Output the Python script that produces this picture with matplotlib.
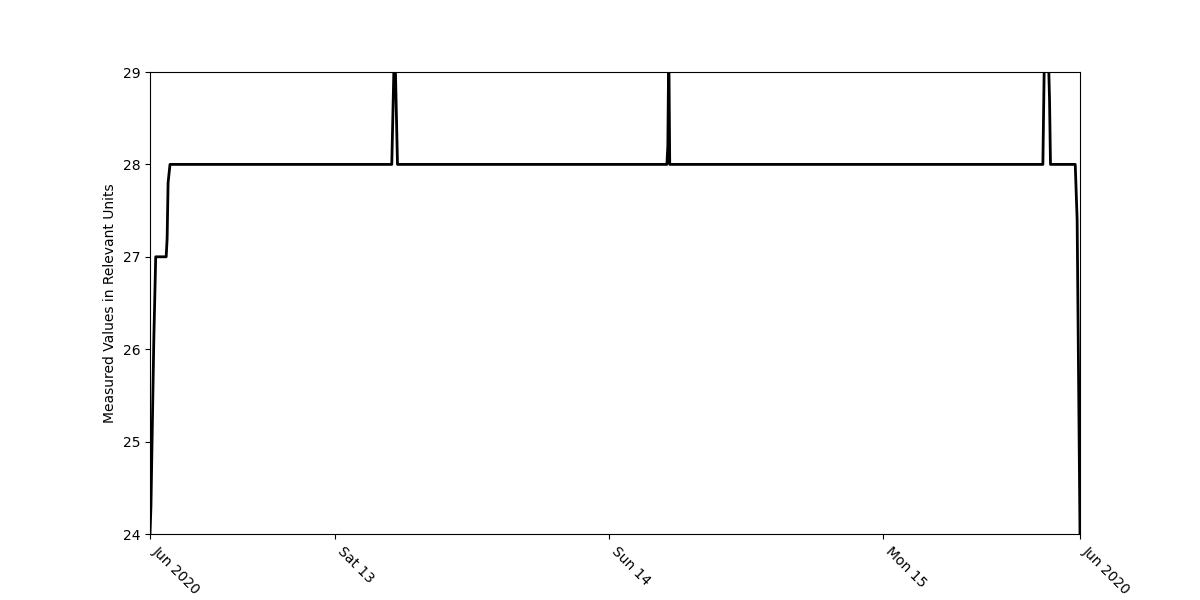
import pandas as pd
import matplotlib.pyplot as plt

# Readings (timestamp, value)
times = [
    "2020-06-12 07:50", "2020-06-12 07:55", "2020-06-12 08:10", "2020-06-12 08:20",
    "2020-06-12 09:15", "2020-06-12 09:20", "2020-06-12 09:25", "2020-06-12 09:35",
    "2020-06-13 05:00", "2020-06-13 05:15", "2020-06-13 05:30",
    "2020-06-14 05:05", "2020-06-14 05:10", "2020-06-14 05:15", "2020-06-14 05:20",
    "2020-06-15 14:00", "2020-06-15 14:10", "2020-06-15 14:25", "2020-06-15 14:35",
    "2020-06-15 14:40", "2020-06-15 16:50", "2020-06-15 17:00", "2020-06-15 17:15",
]
values = [
    24.0, 24.3, 26.1, 27.0,
    27.0, 27.2, 27.8, 28.0,
    28.0, 29.4, 28.0,
    28.0, 28.2, 29.3, 28.0,
    28.0, 29.5, 29.5, 28.7,
    28.0, 28.0, 27.4, 24.0,
]

day_ticks = ["2020-06-13", "2020-06-14", "2020-06-15"]
day_labels = ["Sat 13", "Sun 14", "Mon 15"]
edge_label = "Jun 2020"

df = pd.DataFrame({"Time": pd.to_datetime(times), "Value": values})

fig, ax = plt.subplots(figsize=(12, 6), dpi=100)
ax.plot(df["Time"], df["Value"], color="black", linewidth=2)

start, end = df["Time"].iloc[0], df["Time"].iloc[-1]
ax.set_xlim(start, end)
ax.set_ylim(24, 29)

tick_pos = [start] + list(pd.to_datetime(day_ticks)) + [end]
tick_lab = [edge_label] + day_labels + [edge_label]
ax.set_xticks(tick_pos)
ax.set_xticklabels(tick_lab, rotation=-45, ha="left")

ax.set_ylabel("Measured Values in Relevant Units")

plt.savefig("out.png", dpi=100)
